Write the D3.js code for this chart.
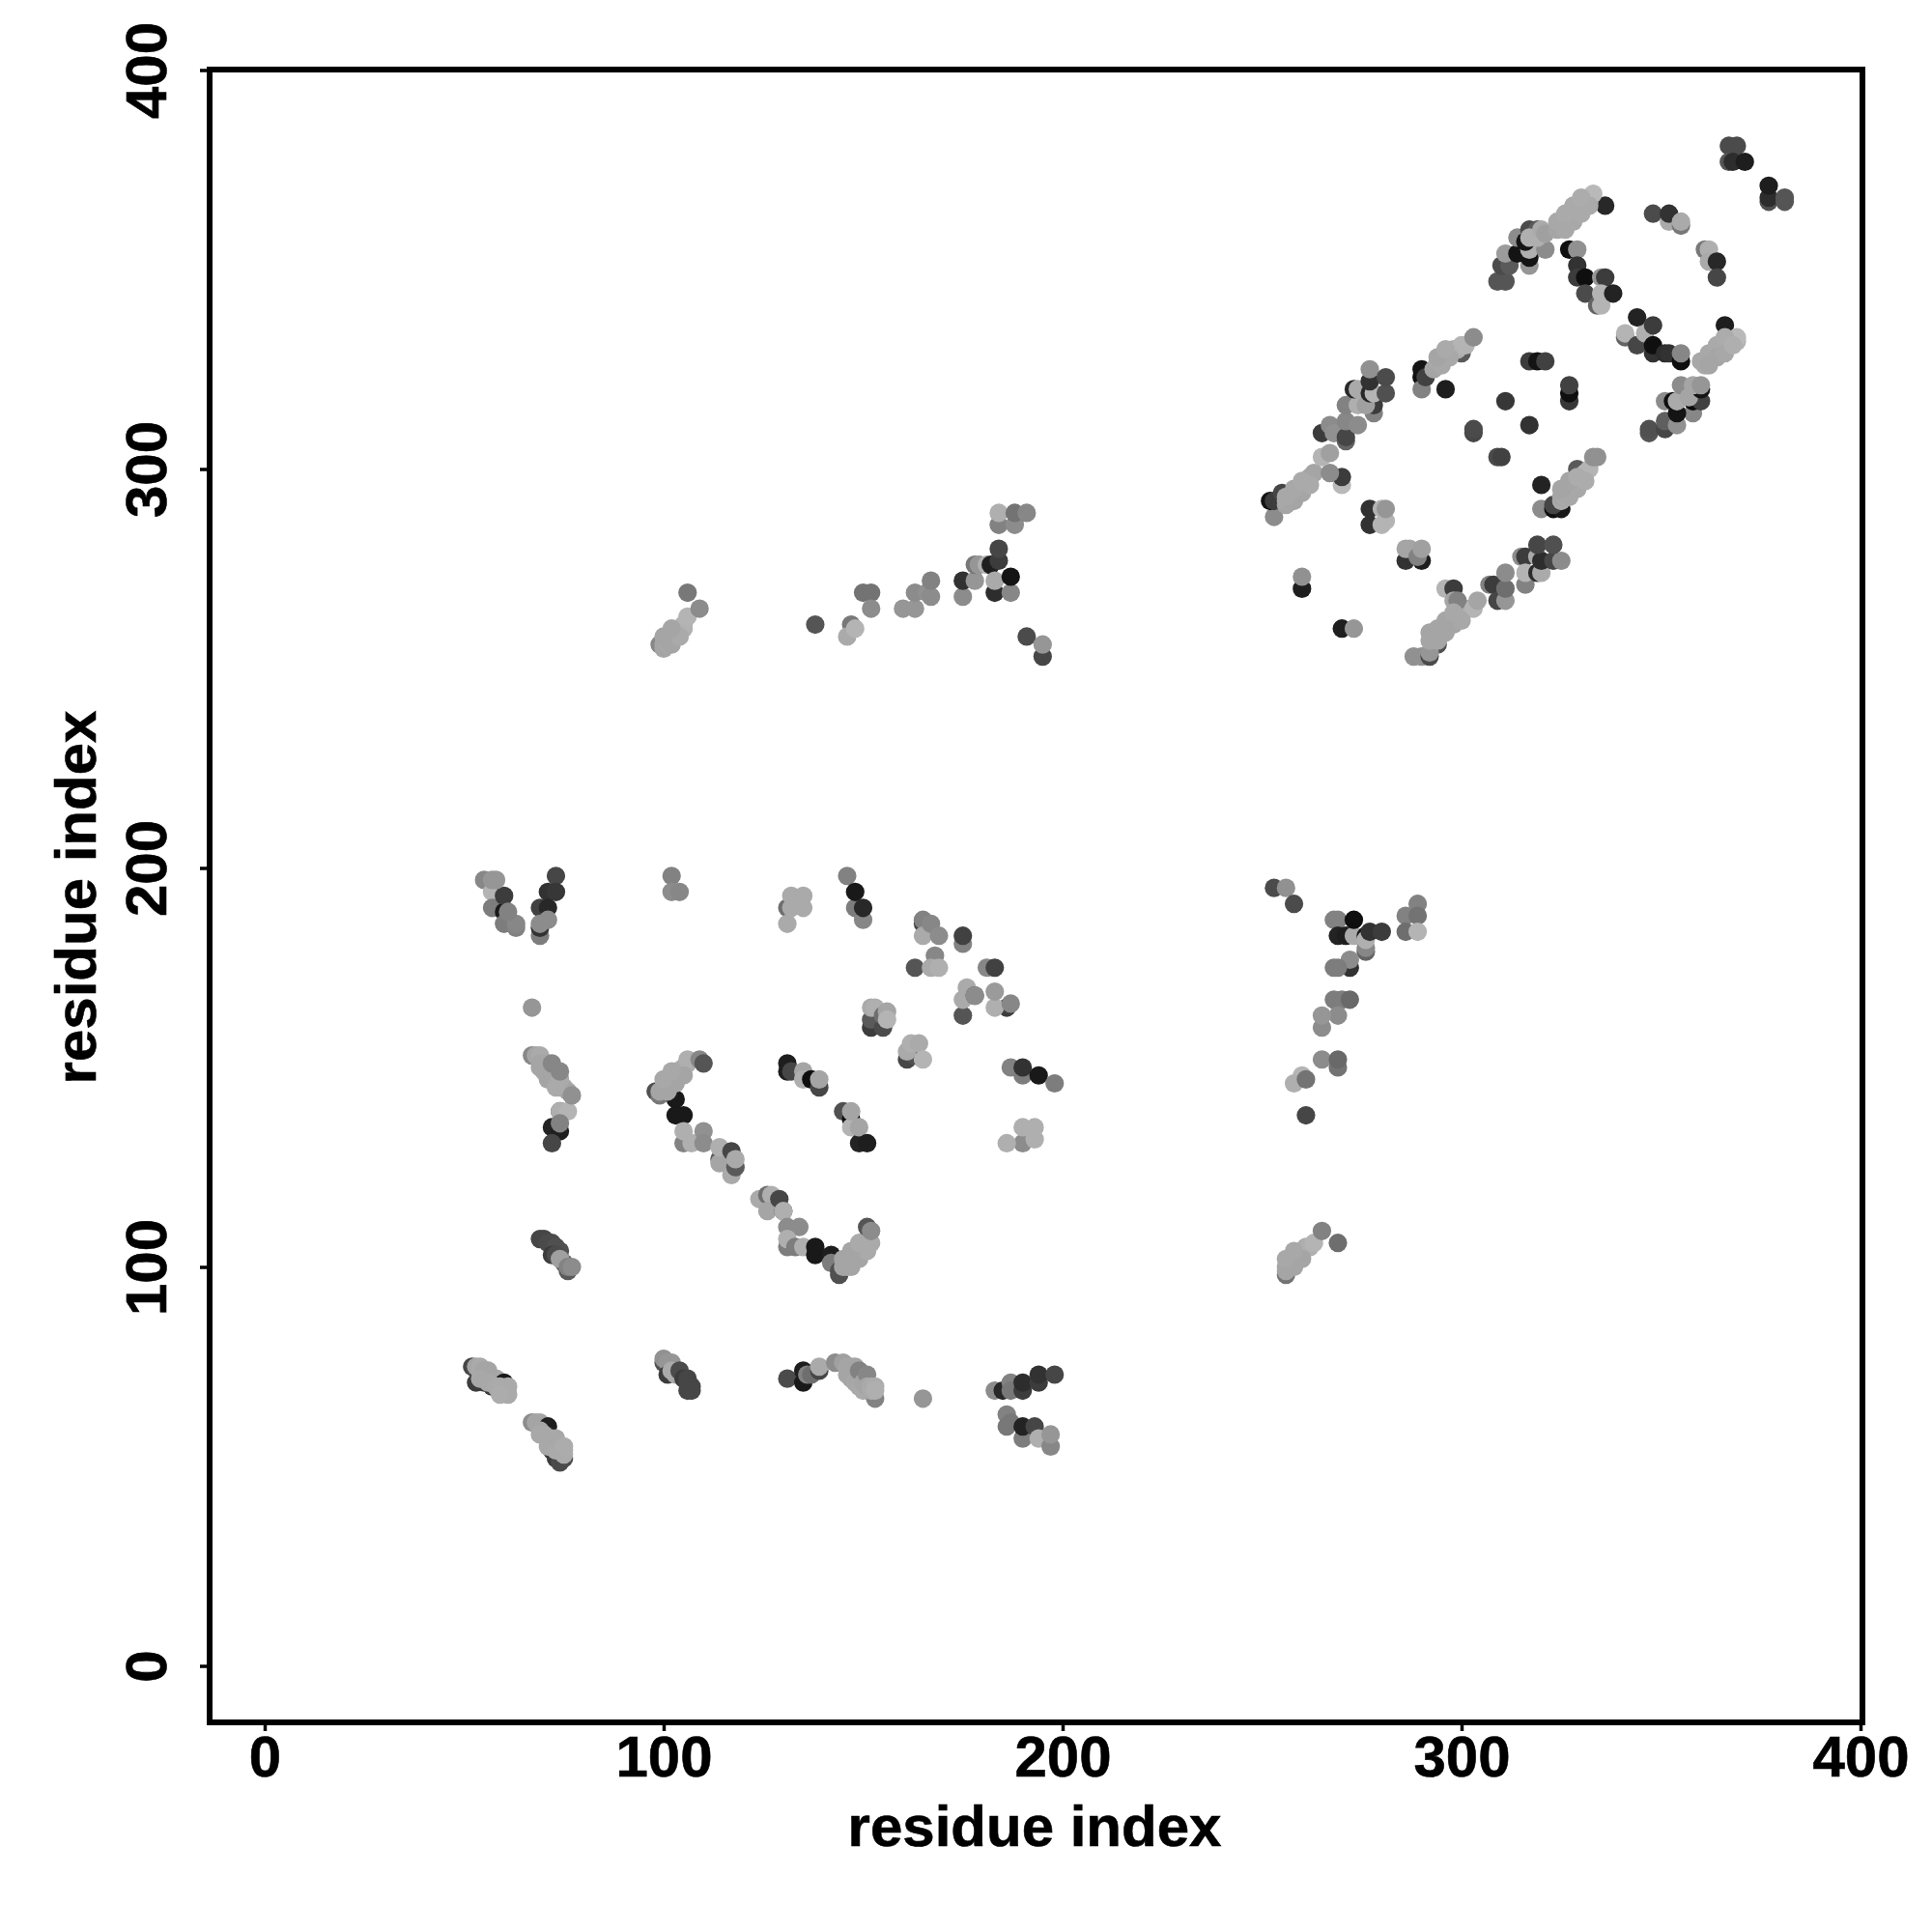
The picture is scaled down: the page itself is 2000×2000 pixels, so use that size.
<!DOCTYPE html>
<html><head><meta charset="utf-8">
<script src="https://cdn.jsdelivr.net/npm/d3@7"></script>
<style>html,body{margin:0;padding:0;background:#fff}svg{display:block}</style>
</head><body><svg id="c" width="2000" height="2000"></svg>
<script>
const tickValues = [0,100,200,300,400];
const axisLabel = "residue index";
// each contact: [residue i, residue j, grey level]
const topRightFar = [[367,381,75],[369,381,75],[367,377,85],[368,377,45],[371,377,30],[377,367,80],[377,368,45],[377,371,30],[381,367,85],[381,368,85]];
const strandA = [[336,366,40],[348,364,75],[352,362,170],[352,364,50],[355,361,120],[355,362,170],[361,355,120],[362,355,175],[362,352,170],[364,352,40],[364,348,70]];
const bandA = [[324,360,165],[325,361,165],[326,361,165],[326,362,170],[327,362,165],[328,363,170],[328,364,165],[329,364,170],[329,365,165],[330,365,170],[330,366,168],[331,366,170],[331,367,170],[332,367,172],[332,368,175],[333,369,185]];
const bandAWide = [[326,360,168],[328,362,168],[330,364,170],[332,366,170],[324,362,168],[326,364,170],[328,366,170],[330,368,172]];
const clusterA = [[309,347,85],[311,347,85],[310,351,75],[312,351,90],[317,351,150],[317,353,20],[311,354,155],[314,354,20],[317,355,175],[321,355,140],[314,358,140],[316,357,20],[317,360,75],[319,360,90],[317,358,175],[319,358,175],[320,360,170],[321,359,160]];
const strandB = [[327,355,15],[329,355,145],[329,351,50],[329,348,60],[331,348,15],[335,348,150],[336,348,60],[331,344,75],[334,341,100],[335,341,180],[335,344,180],[338,344,35]];
const strandC = [[341,333,100],[341,334,180],[344,331,70],[346,334,175],[344,338,35],[348,329,50],[348,331,15],[348,336,60],[351,329,45],[352,329,50],[355,327,15],[355,329,135]];
const bandB = [[366,336,30],[361,326,170],[361,327,165],[362,327,170],[362,328,165],[363,328,170],[363,329,168],[364,329,170],[364,330,165],[365,330,170],[366,330,168],[366,331,172],[367,331,170],[367,332,172],[368,332,175],[369,332,178],[369,333,185]];
const bandBWide = [[360,327,168],[362,329,168],[364,331,170],[366,333,172],[362,326,165],[364,328,165],[366,329,168],[368,331,175]];
const clusterB = [[347,309,85],[347,310,80],[351,310,70],[351,312,95],[354,311,145],[358,314,135],[354,314,20],[351,317,140],[353,317,15],[358,317,10],[354,317,170],[360,317,65],[355,321,140],[357,318,165],[360,320,20],[358,321,165],[360,321,150]];
const middle = [[317,327,60],[319,327,20],[321,327,65],[327,317,55],[327,319,15],[327,321,65],[311,317,55],[317,311,50],[303,309,70],[303,310,75],[309,303,75],[310,303,65]];
const bandC = [[320,296,35],[320,290,140],[323,290,15],[325,290,25],[323,291,70],[329,300,90],[325,292,170],[325,293,165],[326,293,170],[326,294,165],[327,294,170],[327,295,165],[328,296,168],[328,297,170],[329,297,165],[330,298,175],[331,299,178],[332,300,180],[333,303,145],[334,303,145]];
const bandCWide = [[327,293,168],[329,295,168],[331,297,172],[325,295,165],[327,297,165],[329,298,172]];
const clusterC = [[307,271,130],[308,271,60],[309,267,70],[311,267,150],[311,270,110],[316,271,130],[315,278,140],[316,278,60],[311,274,140],[316,274,180],[319,274,45],[320,274,170],[319,278,170],[320,277,45],[323,277,70],[325,277,140],[319,281,70],[323,281,80]];
const bandD = [[288,253,145],[290,253,145],[292,253,75],[294,256,80],[292,254,150],[292,257,165],[293,258,165],[294,258,168],[295,259,165],[296,260,170],[297,261,165],[298,262,168],[299,263,165],[300,263,170],[300,264,165],[301,265,170],[296,270,180],[298,270,60],[298,267,165],[299,267,130],[303,265,180],[304,267,165]];
const bandDWide = [[294,257,165],[296,259,165],[298,261,165],[300,262,168],[292,259,165],[294,260,165],[296,262,165],[298,264,168]];
const isolatedUpper = [[260,270,30],[260,273,145],[270,260,30],[273,260,150],[286,277,50],[286,280,165],[287,280,165],[290,277,30],[289,278,130],[290,280,160],[277,286,50],[277,290,50],[280,286,180],[281,287,180],[280,290,180],[281,290,150]];
const bandE = [[270,296,185],[270,298,60],[253,288,140],[252,292,20],[253,292,60],[255,294,70],[256,291,165],[256,292,168],[257,292,165],[257,293,170],[258,293,165],[259,294,165],[259,295,168],[260,295,165],[260,296,170],[261,297,165],[262,298,168],[263,299,165],[267,299,140],[265,303,180],[267,304,160]];
const bandEWide = [[258,292,165],[260,294,165],[262,296,170],[256,293,168],[258,295,168],[260,297,170]];
const bandF = [[265,309,60],[267,311,140],[268,309,145],[271,307,100],[271,308,70],[271,312,135],[274,311,140],[271,316,130],[278,314,130],[278,316,60],[274,316,175],[276,316,160],[273,320,40],[274,320,170],[277,319,40],[278,319,180],[277,322,50],[277,325,145],[281,319,80],[281,323,75]];
const bandG = [[290,323,15],[290,325,20],[290,320,130],[296,320,30],[291,323,65],[293,325,165],[294,326,165],[294,327,170],[295,327,165],[296,328,170],[296,329,168],[297,329,165],[298,330,170],[300,329,90],[299,330,175],[300,331,180],[301,331,180],[303,333,140]];
const bandGWide = [[295,326,168],[297,328,168],[294,328,165],[296,330,170]];
const topLeftBand = [[99,256,135],[100,255,165],[100,256,165],[101,256,168],[101,257,165],[102,257,170],[102,258,168],[103,259,165],[103,258,170],[104,260,165],[105,260,175],[105,261,178],[106,263,180],[106,269,120],[109,265,140]];
const topLeftWide = [[102,256,165],[104,258,170],[100,258,165],[102,260,165]];
const topMid = [[138,261,85],[147,261,120],[146,258,170],[148,260,180],[150,269,115],[152,269,115],[152,265,140],[160,265,150],[163,265,150],[163,269,140],[166,269,145],[167,268,140],[167,272,130]];
const topNode = [[175,268,140],[175,272,50],[178,272,150],[178,276,120],[179,276,150],[181,276,175],[182,276,30],[183,269,45],[183,272,170],[184,277,60],[184,280,70],[187,269,135],[187,273,20],[184,286,130],[188,286,140],[184,289,175],[188,289,115],[191,289,135],[191,258,75],[195,253,70],[195,256,150]];
const grpA = [[55,197,135],[57,194,180],[57,190,125],[60,189,25],[60,193,60],[57,197,150],[58,197,150],[60,186,125],[63,185,130],[63,186,135],[61,189,130],[73,198,70],[71,194,50],[73,194,55],[69,190,65],[71,190,40],[69,183,125],[69,185,50],[69,186,140],[71,187,140]];
const grpB = [[102,198,130],[102,194,140],[104,194,135],[131,190,110],[131,186,170],[132,190,170],[132,193,170],[135,190,170],[135,193,170],[146,198,130],[148,190,125],[148,194,25],[150,187,135],[150,190,40]];
const grpC = [[165,186,70],[165,187,130],[165,183,170],[167,186,135],[169,183,140],[175,181,130],[175,183,65],[163,175,85],[168,178,135],[167,175,170],[169,175,175],[181,175,135],[183,175,65],[175,163,85],[176,170,170],[175,167,170],[178,168,75],[178,168,140],[186,165,60],[183,165,175],[183,169,155],[187,166,135]];
const grpD = [[152,160,60],[152,162,90],[152,165,170],[153,165,175],[155,160,75],[155,163,110],[156,164,165],[156,162,180],[161,152,70],[163,153,80],[161,154,170],[162,156,175],[164,156,170],[165,152,180]];
const grpE = [[67,165,150],[67,153,135],[68,153,165],[69,153,170],[69,151,165],[70,150,165],[70,149,170],[71,148,165],[72,147,168],[73,146,165],[74,145,165],[75,145,170],[76,144,165],[74,139,90],[74,139,175],[76,139,180],[72,135,35],[74,134,30],[74,136,130],[72,131,70]];
const grpEWide = [[69,150,165],[71,147,165],[73,145,170],[71,151,165],[72,149,165],[74,147,170],[72,151,135],[74,149,135],[77,143,145]];
const grpF = [[98,144,80],[99,143,120],[99,144,165],[100,145,165],[101,145,168],[101,146,165],[102,147,170],[103,148,165],[103,149,168],[104,149,165],[105,150,170],[106,151,172],[106,152,175],[109,152,135],[110,151,85],[103,142,25],[103,138,25],[105,138,25]];
const grpFWide = [[101,144,165],[103,146,165],[105,148,165],[100,147,168],[102,149,168]];
const grpG = [[105,131,130],[105,134,175],[107,131,175],[110,134,145],[110,131,140],[114,127,90],[114,126,165],[114,130,175],[117,123,170],[118,125,90],[117,129,70],[118,127,170]];
const grpH = [[131,151,30],[131,149,30],[132,149,70],[135,149,165],[135,147,175],[137,147,15],[139,145,70],[139,147,165],[145,139,80],[147,137,10],[147,135,180],[147,139,165],[149,131,35],[149,135,165],[151,131,30]];
const grpI = [[187,150,130],[190,148,125],[190,150,50],[194,148,25],[198,146,125],[190,131,140],[186,131,175],[190,135,175],[193,135,175],[193,132,175]];
const grpJ = [[124,117,170],[126,118,110],[127,118,175],[126,114,165],[129,117,70],[130,114,70],[130,114,175],[131,110,140],[134,110,140],[131,105,125],[131,107,175],[133,105,125],[135,105,175],[138,103,25],[138,105,25],[142,103,30],[142,101,125]];
const grpK = [[144,98,80],[144,99,80],[145,100,165],[146,100,165],[146,101,165],[146,102,168],[147,102,165],[148,103,170],[148,104,165],[149,104,168],[150,105,165],[150,106,170],[151,107,175],[152,106,170]];
const grpKWide = [[147,100,165],[149,102,165],[151,104,170],[145,102,165],[147,104,165],[149,106,170],[151,110,85],[152,109,140]];
const grpL = [[69,107,70],[70,107,70],[71,106,75],[72,106,75],[73,105,80],[74,104,80],[72,103,60],[73,103,75],[76,99,90],[75,101,100],[74,102,160],[76,100,130],[77,100,140]];
const grpM = [[52,75,70],[53,71,60],[55,71,60],[57,70,60],[53,75,165],[54,75,170],[54,74,170],[55,74,165],[56,73,168],[57,72,170],[58,72,168],[60,71,25],[59,70,170],[60,69,168],[61,70,170],[61,68,170]];
const grpMWide = [[56,74,165],[54,72,168],[56,71,168],[58,70,170],[59,68,172]];
const grpN = [[67,61,140],[68,61,165],[69,61,165],[71,60,30],[69,59,165],[70,58,168],[71,57,165],[72,57,170],[72,54,60],[73,52,60],[73,55,168],[74,51,75],[75,52,75],[74,54,170],[75,54,172],[75,53,172]];
const grpNWide = [[69,58,168],[71,55,168],[73,54,170],[73,57,168],[75,55,172]];
const grpO = [[100,76,80],[100,77,145],[101,76,150],[102,76,150],[101,73,60],[102,74,170],[103,73,170],[104,74,75],[105,72,60],[106,72,70],[106,71,70],[107,70,70],[106,69,70],[107,69,70]];
const grpP = [[131,72,75],[135,71,25],[135,74,30],[136,73,130],[137,73,110],[139,74,70],[139,75,170],[143,76,140],[145,76,160],[146,75,165],[147,75,165],[148,75,165],[147,74,165],[146,73,165],[147,72,165],[148,73,165],[148,71,168],[149,72,165],[149,70,168],[150,69,170],[149,74,130],[150,71,165],[151,73,135],[153,67,130],[151,70,165],[152,70,170],[152,69,170],[153,70,172],[153,69,175],[165,67,150]];
const grpQ = [[183,69,140],[185,69,40],[187,71,130],[187,69,120],[190,69,60],[190,71,45],[194,71,60],[194,73,50],[198,73,70],[186,63,130],[187,61,120],[186,60,120],[190,57,125],[190,60,35],[193,60,70],[194,57,175],[197,55,135],[197,58,150]];
const grpR = [[253,195,75],[256,195,145],[258,191,75],[268,187,130],[269,187,130],[269,183,35],[271,183,30],[276,179,100],[276,180,135],[273,183,170],[273,187,15],[276,183,25],[276,182,175],[277,184,50],[280,184,60],[272,175,50],[272,177,140],[268,175,125],[269,175,125]];
const grpS = [[268,167,125],[270,167,125],[272,167,105],[269,163,140],[265,160,140],[265,163,150],[265,152,140],[269,150,115],[269,152,105],[260,148,180],[258,146,175],[261,147,115],[261,138,70]];
const grpT = [[256,98,115],[256,99,165],[256,100,165],[257,101,165],[258,101,168],[258,102,165],[259,103,168],[260,103,165],[260,104,170],[261,105,172],[262,105,175],[263,106,180],[265,109,130],[269,106,110]];
const grpTWide = [[258,100,165],[260,102,165],[256,102,168],[258,104,168]];
const grpU = [[286,188,130],[286,184,110],[289,191,130],[289,188,115],[289,184,180]];

const contacts = [topRightFar,strandA,clusterA,bandA,bandAWide,strandB,strandC,bandB,bandBWide,clusterB,middle,bandC,bandCWide,clusterC,bandD,bandDWide,isolatedUpper,bandE,bandEWide,bandF,bandG,bandGWide,topLeftBand,topLeftWide,topMid,topNode,grpA,grpB,grpC,grpD,grpE,grpEWide,grpF,grpFWide,grpG,grpH,grpI,grpJ,grpK,grpKWide,grpL,grpM,grpMWide,grpN,grpNWide,grpO,grpP,grpQ,grpR,grpS,grpT,grpTWide,grpU].flat();

const svg = d3.select("#c");
const x = d3.scaleLinear().domain([0,400]).range([274,1926]);
const y = d3.scaleLinear().domain([0,400]).range([1724.5,72.5]);
const font = '"Liberation Sans", Arial, sans-serif';

svg.append("g").selectAll("circle").data(contacts).join("circle")
  .attr("cx",d=>x(d[0])).attr("cy",d=>y(d[1])).attr("r",9.6)
  .attr("fill",d=>d3.rgb(d[2],d[2],d[2]).formatHex());

svg.append("rect").attr("x",217).attr("y",72).attr("width",1711).attr("height",1711)
  .attr("fill","none").attr("stroke","#000").attr("stroke-width",6);

const gx = svg.append("g").attr("transform","translate(0,1783)")
  .call(d3.axisBottom(x).tickValues(tickValues).tickSize(9).tickPadding(14));
const gy = svg.append("g").attr("transform","translate(217,0)")
  .call(d3.axisLeft(y).tickValues(tickValues).tickSize(10).tickPadding(0));
[gx,gy].forEach(g=>{
  g.select(".domain").remove();
  g.selectAll("line").attr("stroke","#000").attr("stroke-width",3.5);
  g.selectAll("text").attr("fill","#000").attr("stroke","#000").attr("stroke-width",0.6).style("font-family",font).style("font-weight","bold").style("font-size","60px");
});
gx.selectAll("text").attr("dy",null).attr("y",null).attr("dominant-baseline","auto").attr("transform","translate(0,56)");
gy.selectAll("text").attr("x",null).attr("dy",null).attr("text-anchor","middle")
  .attr("transform","translate(-45,0) rotate(-90)");

svg.append("text").text(axisLabel).attr("x",1071).attr("y",1911).attr("text-anchor","middle")
  .attr("stroke","#000").attr("stroke-width",0.6)
  .style("font-family",font).style("font-weight","bold").style("font-size","60px");
svg.append("text").text(axisLabel).attr("transform","translate(99,929) rotate(-90)").attr("text-anchor","middle")
  .attr("stroke","#000").attr("stroke-width",0.6)
  .style("font-family",font).style("font-weight","bold").style("font-size","60px");
</script></body></html>
